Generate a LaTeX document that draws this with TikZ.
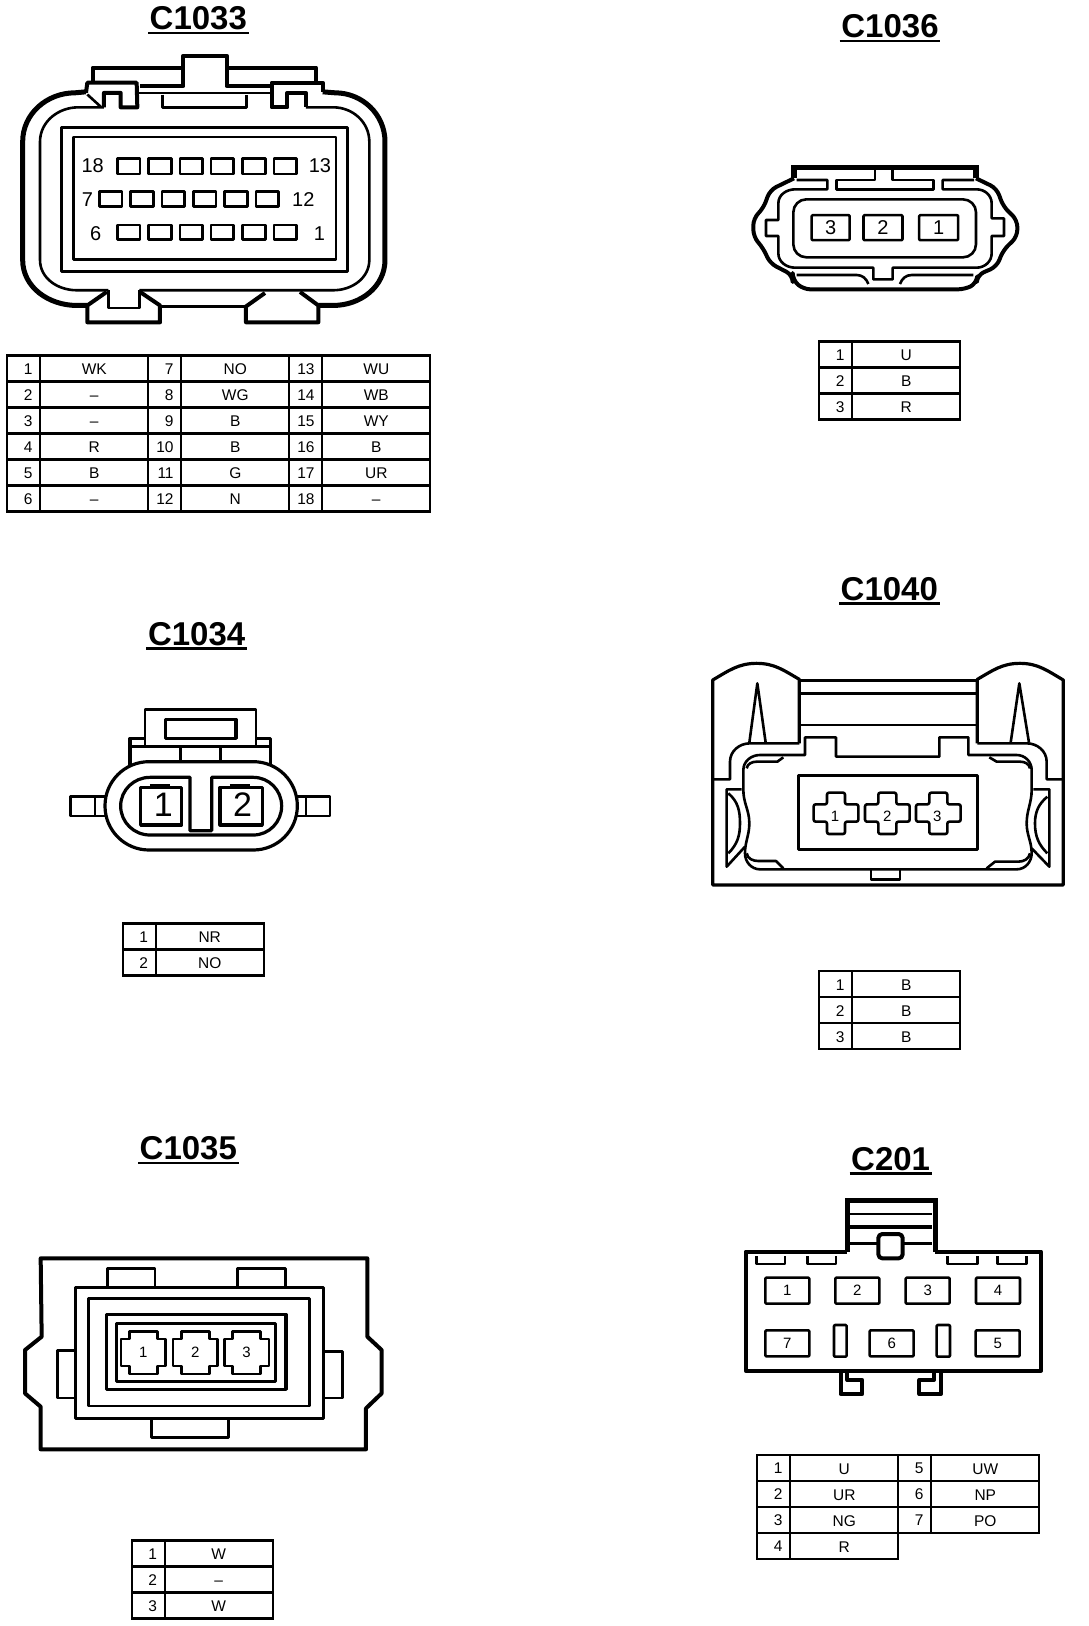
\documentclass[tikz,border=0pt]{standalone}
\usepackage{fontspec}
\setmainfont{Liberation Sans}
\usetikzlibrary{calc}

\tikzset{
  zoomed/.style={x=0.33333pt,y=-0.33333pt},
  heavy/.style={line width=4pt,line join=round},
  firm/.style={line width=3.2pt,line join=round},
  medium/.style={line width=2.6pt,line join=round},
  tableline/.style={line width=2.2pt},
  conntitle/.style={font=\fontsize{33}{33}\selectfont\bfseries,inner xsep=1.5pt,inner ysep=3pt,anchor=base},
  titlerule/.style={line width=2.2pt},
  pinnum/.style={font=\fontsize{15.5}{16}\selectfont,inner sep=0pt,anchor=east},
  wiretext/.style={font=\fontsize{15.5}{16}\selectfont,inner sep=0pt,text height=11pt,text depth=0pt},
  pinlabel/.style={font=\fontsize{20}{20}\selectfont,inner sep=0pt},
  smalllabel/.style={font=\fontsize{15}{15}\selectfont,inner sep=0pt},
  cavity/.style={draw,medium,rounded corners=1pt,font=\fontsize{15}{15}\selectfont,inner sep=0pt},
}

% one column of a wiring table: left, top, name prefix, rows
\newcommand{\pincol}[4]{%
  \foreach \num/\wire [count=\row] in {#4} {
    \pgfmathsetmacro{\ytop}{#2+(\row-1)*26}
    \draw[tableline] (#1,\ytop) rectangle ++(33,26);
    \draw[tableline] (#1+33,\ytop) rectangle ++(108,26);
    \node[pinnum] (#3n\num) at (#1+25.5,\ytop+13.5) {\num};
    \node[wiretext] (#3w\num) at (#1+87,\ytop+13.5) {\wire};
  }
}

% cross shaped terminal of C1040
\newcommand{\crosspin}[2]{%
  \draw[medium,rounded corners=2pt,shift={(#1,#2)}]
    (-27,-62) -- (27,-62) -- (27,-27) -- (67,-27) -- (67,25) -- (27,25)
    -- (27,62) -- (-27,62) -- (-27,25) -- (-67,25) -- (-67,-27) -- (-27,-27) -- cycle;
}

% stepped terminal of C1035
\newcommand{\steppin}[2]{%
  \draw[medium,shift={(#1,#2)}]
    (-42,-64) -- (42,-64) -- (42,-41) -- (67,-41) -- (67,40) -- (42,40)
    -- (42,64) -- (-42,64) -- (-42,40) -- (-67,40) -- (-67,-41) -- (-42,-41) -- cycle;
}

\begin{document}
\begin{tikzpicture}[x=1pt,y=-1pt]
\useasboundingbox (0,0) rectangle (1088,1626);

% C1033
\begin{scope}[zoomed,y=-0.3375pt]
\node[conntitle] (t1033) at (595,88) {C1033};
\draw[titlerule] (t1033.south west) -- (t1033.south east);

% locking tab on top
\draw[heavy] (278,240) -- (278,200) -- (550,200) -- (550,255) -- (420,255);
\draw[heavy] (678,200) -- (948,200) -- (948,240);
\draw[heavy] (550,200) -- (550,165) -- (680,165) -- (680,255) -- (810,255);

% clips
\draw[heavy] (258,275) -- (262,245) -- (410,245) -- (412,318) -- (362,318) -- (362,275) -- (312,275) -- (312,318);
\draw[medium] (262,280) -- (302,316);
\draw[heavy] (968,272) -- (968,245) -- (815,245) -- (815,318) -- (862,318) -- (862,275) -- (918,275) -- (918,318);
\draw[medium] (412,275) -- (815,275);
\draw[medium] (488,280) -- (488,318) -- (740,318) -- (740,280);

% housing
\draw[line width=5pt] (258,272) -- (225,275) to[out=180,in=90] (68,420) -- (68,770) to[out=270,in=180] (230,905) -- (262,905);
\draw[line width=5pt] (968,272) -- (1005,275) to[out=0,in=90] (1155,420) -- (1155,770) to[out=270,in=0] (1000,905) -- (955,905);
\draw[medium] (312,318) -- (235,318) to[out=180,in=90] (120,420) -- (120,770) to[out=270,in=180] (230,860) -- (325,860);
\draw[medium] (918,318) -- (1000,318) to[out=0,in=90] (1108,420) -- (1108,770) to[out=270,in=0] (1000,860) -- (418,860);

% bottom clips
\draw[heavy] (320,865) -- (262,905) -- (262,955) -- (480,955) -- (480,905) -- (420,865);
\draw[medium] (325,860) -- (325,912) -- (418,912) -- (418,860);
\draw[heavy] (795,868) -- (738,908) -- (738,955) -- (955,955) -- (955,905) -- (900,865);
\draw[medium] (480,908) -- (738,908);

% insert and pin rows
\draw[medium] (185,378) rectangle (1042,805);
\draw[medium] (220,406) rectangle (1008,768);
\foreach \x in {352,446,540,633,728,822} {
  \draw[medium] (\x,470) rectangle ++(68,45);
  \draw[medium] (\x,667) rectangle ++(68,43);
}
\foreach \x in {298,392,486,580,674,768}
  \draw[medium] (\x,568) rectangle ++(68,44);
\node[pinlabel] (l18) at (278,490) {18};
\node[pinlabel] (l13) at (960,490) {13};
\node[pinlabel] (l7) at (262,590) {7};
\node[pinlabel] (l12) at (910,590) {12};
\node[pinlabel] (l6) at (287,692) {6};
\node[pinlabel] (l1) at (958,692) {1};
\end{scope}
\pincol{7.3}{355.4}{a}{1/WK,2/–,3/–,4/R,5/B,6/–}
\pincol{148.3}{355.4}{b}{7/NO,8/WG,9/B,10/B,11/G,12/N}
\pincol{289.3}{355.4}{c}{13/WU,14/WB,15/WY,16/B,17/UR,18/–}

% C1036
\begin{scope}[shift={(720,0)},zoomed]
\node[conntitle] (t1036) at (510,113) {C1036};
\draw[titlerule] (t1036.south west) -- (t1036.south east);

% housing
\draw[line width=5.5pt] (222,535) -- (222,503) -- (768,503) -- (768,535);
\draw[heavy,rounded corners=7pt] (222,535) -- (150,570) -- (130,625) -- (100,655) -- (100,710) -- (130,745) -- (150,790) -- (218,825) -- (218,840)
  -- (250,868) -- (735,868) -- (770,850) -- (772,825) -- (830,800) -- (850,750) -- (892,710) -- (892,660) -- (850,620) -- (830,565) -- (768,535);

% inner outline
\draw[medium] (465,505) -- (465,540) -- (350,540) -- (350,568) -- (640,568) -- (640,540) -- (518,540) -- (518,505);
\draw[medium] (230,540) -- (322,540) -- (322,568) -- (225,568)
  to[out=180,in=90] (175,610) -- (175,660) -- (138,660) -- (138,708) -- (175,708) -- (175,760)
  to[out=270,in=180] (225,803) -- (460,803) -- (460,838) -- (518,838) -- (518,803) -- (770,803)
  to[out=0,in=270] (815,760) -- (815,708) -- (852,708) -- (852,655) -- (815,655) -- (815,610)
  to[out=90,in=0] (770,568) -- (668,568) -- (668,540) -- (762,540);
\draw[medium] (230,825) -- (410,825) to[out=0,in=110] (445,852);
\draw[medium] (540,852) to[out=70,in=180] (575,825) -- (760,825);

\draw[medium,rounded corners=13pt] (220,598) rectangle (768,772);
\node[cavity,minimum width=38pt,minimum height=25pt,font=\fontsize{20}{20}\selectfont] (p3) at (332,683) {3};
\node[cavity,minimum width=39pt,minimum height=25pt,font=\fontsize{20}{20}\selectfont] (p2) at (489,683) {2};
\node[cavity,minimum width=39pt,minimum height=25pt,font=\fontsize{20}{20}\selectfont] (p1) at (656,683) {1};
\end{scope}
\pincol{819.3}{341.5}{d}{1/U,2/B,3/R}

% C1034
\begin{scope}[shift={(50,600)},zoomed]
\node[conntitle] (t1034) at (440,135) {C1034};
\draw[titlerule] (t1034.south west) -- (t1034.south east);

% latch
\draw[medium] (285,438) -- (285,328) -- (618,328) -- (618,438);
\draw[firm] (347,358) rectangle (558,415);
\draw[firm] (240,495) -- (240,415) -- (285,415);
\draw[firm] (618,415) -- (662,415) -- (662,495);
\draw[firm] (240,440) -- (662,440);
\draw[medium] (392,440) -- (392,485);
\draw[medium] (512,440) -- (512,485);

% body
\draw[firm,rounded corners=44pt] (165,485) rectangle (742,750);
\draw[firm] (420,532) -- (300,532) to[out=180,in=90] (212,618) to[out=270,in=180] (300,705) -- (610,705)
  to[out=0,in=270] (695,618) to[out=90,in=0] (610,532) -- (485,532) -- (485,692) -- (420,692) -- cycle;

% terminals
\draw[firm] (272,562) rectangle (395,675);
\draw[firm] (510,562) rectangle (637,675);
\draw[firm] (300,556) -- (360,556);
\draw[firm] (540,556) -- (600,556);
\node[pinlabel,font=\fontsize{34}{34}\selectfont] (q1) at (340,615) {1};
\node[pinlabel,font=\fontsize{34}{34}\selectfont] (q2) at (578,615) {2};

% side tabs
\draw[medium] (165,590) -- (62,590) -- (62,648) -- (165,648);
\draw[medium] (135,590) -- (135,648);
\draw[medium] (742,590) -- (840,590) -- (840,648) -- (742,648);
\draw[medium] (768,590) -- (768,648);
\end{scope}
\pincol{122.7}{923.5}{e}{1/NR,2/NO}

% C1040
\begin{scope}[shift={(700,560)},zoomed]
\node[conntitle] (t1040) at (568,120) {C1040};
\draw[titlerule] (t1040.south west) -- (t1040.south east);

% frame
\draw[firm] (298,550) -- (298,358) to[out=150,in=0] (170,310) to[out=180,in=30] (38,360) -- (38,975)
  -- (1090,975) -- (1090,360) to[out=150,in=0] (960,310) to[out=180,in=30] (832,358) -- (832,550);
\draw[medium] (298,362) -- (832,362);
\draw[medium] (298,400) -- (832,400);
\draw[medium] (298,495) -- (832,495);
\draw[medium] (148,548) -- (172,370) -- (197,548);
\draw[medium] (932,548) -- (958,370) -- (987,548);
\draw[medium] (298,550) -- (150,550) to[out=180,in=90] (90,605) -- (90,658) -- (38,658);
\draw[medium] (832,550) -- (980,550) to[out=0,in=90] (1040,605) -- (1040,658) -- (1090,658);

% insert shell
\draw[medium] (180,585) -- (315,585) -- (315,532) -- (408,532) -- (408,590) -- (718,590) -- (718,532) -- (805,532) -- (805,585) -- (950,585)
  to[out=0,in=90] (995,630) -- (995,690) to[out=270,in=90] (980,790) to[out=270,in=90] (995,880)
  to[out=270,in=0] (950,928) -- (180,928) to[out=180,in=270] (135,880)
  to[out=90,in=270] (148,790) to[out=90,in=270] (130,690) -- (130,630) to[out=90,in=180] cycle;
\draw[medium] (140,625) to[out=80,in=180] (170,605) -- (232,605) -- (250,592);
\draw[medium] (140,880) to[out=280,in=180] (175,903) -- (228,903) -- (250,925);
\draw[medium] (990,625) to[out=100,in=0] (960,605) -- (890,605) -- (868,592);
\draw[medium] (990,880) to[out=260,in=0] (955,905) -- (885,905) -- (860,925);

% side latches
\draw[medium] (125,688) -- (80,688) -- (80,920) -- (135,860);
\draw[medium] (85,700) to[out=-40,in=90] (120,790) to[out=270,in=45] (85,880);
\draw[medium] (1000,688) -- (1048,688) -- (1048,920) -- (995,865);
\draw[medium] (1042,710) to[out=220,in=90] (1005,790) to[out=270,in=135] (1042,880);

% window
\draw[medium] (296,647) rectangle (833,868);
\crosspin{408}{760}
\crosspin{562}{760}
\crosspin{715}{760}
\node[smalllabel] (r1) at (405,768) {1};
\node[smalllabel] (r2) at (562,768) {2};
\node[smalllabel] (r3) at (712,768) {3};
\draw[medium] (513,930) -- (513,958) -- (600,958) -- (600,930);
\end{scope}
\pincol{819.3}{971.2}{f}{1/B,2/B,3/B}

% C1035
\begin{scope}[shift={(10,1130)},zoomed]
\node[conntitle] (t1035) at (535,88) {C1035};
\draw[titlerule] (t1035.south west) -- (t1035.south east);

\draw[heavy] (92,385) -- (1072,385) -- (1072,620) -- (1115,660) -- (1115,790) -- (1068,835) -- (1068,958) -- (92,958) -- (92,830) -- (45,790) -- (45,660) -- (95,620) -- cycle;
\draw[medium] (197,472) rectangle (940,865);
\draw[medium] (235,505) rectangle (898,828);
\draw[firm] (290,553) rectangle (828,778);
\draw[firm] (320,580) rectangle (797,755);

% tabs
\draw[medium] (292,468) -- (292,415) -- (435,415) -- (435,468);
\draw[medium] (682,468) -- (682,415) -- (827,415) -- (827,468);
\draw[medium] (425,868) -- (425,922) -- (655,922) -- (655,868);
\draw[medium] (197,662) -- (143,662) -- (143,804) -- (197,804);
\draw[medium] (940,664) -- (997,664) -- (997,804) -- (940,804);

% terminals
\steppin{400}{668}
\steppin{556}{668}
\steppin{710}{668}
\node[smalllabel] (s1) at (400,668) {1};
\node[smalllabel] (s2) at (556,668) {2};
\node[smalllabel] (s3) at (710,668) {3};
\end{scope}
\pincol{131.7}{1540.5}{g}{1/W,2/–,3/W}

% C201
\begin{scope}[shift={(730,1140)},zoomed]
\node[conntitle] (t201) at (482,90) {C201};
\draw[titlerule] (t201.south west) -- (t201.south east);

% body
\draw[heavy] (350,335) -- (47,335) -- (47,692) -- (933,692) -- (933,335) -- (615,335);
\draw[line width=5pt] (352,335) -- (352,182) -- (615,182) -- (615,335);
\draw[medium] (360,222) -- (605,222);
\draw[heavy] (360,260) -- (605,260);
\draw[medium] (360,310) -- (445,310);
\draw[medium] (520,310) -- (605,310);
\draw[heavy,rounded corners=4pt,fill=white] (445,282) rectangle (518,355);

% top slots
\foreach \x/\y in {80/165,232/318,652/742,802/890}
  \draw[medium] (\x,348) -- (\x,372) -- (\y,372) -- (\y,348);

% cavities
\node[cavity,minimum width=44pt,minimum height=26pt] (c1) at (172,452) {1};
\node[cavity,minimum width=44pt,minimum height=26pt] (c2) at (382,452) {2};
\node[cavity,minimum width=44pt,minimum height=26pt] (c3) at (593,452) {3};
\node[cavity,minimum width=44pt,minimum height=26pt] (c4) at (804,452) {4};
\node[cavity,minimum width=44pt,minimum height=26pt] (c7) at (172,610) {7};
\node[cavity,minimum width=44pt,minimum height=26pt] (c6) at (485,610) {6};
\node[cavity,minimum width=44pt,minimum height=26pt] (c5) at (803,610) {5};
\draw[medium,rounded corners=1pt] (312,555) rectangle (350,650);
\draw[medium,rounded corners=1pt] (620,555) rectangle (660,650);

% hooks
\draw[heavy] (332,692) -- (332,762) -- (397,762) -- (397,720) -- (352,720) -- (352,692);
\draw[heavy] (633,692) -- (633,762) -- (568,762) -- (568,720) -- (612,720) -- (612,692);
\end{scope}
\pincol{757.3}{1455}{h}{1/U,2/UR,3/NG,4/R}
\pincol{898.3}{1455}{i}{5/UW,6/NP,7/PO}
\end{tikzpicture}
\end{document}
